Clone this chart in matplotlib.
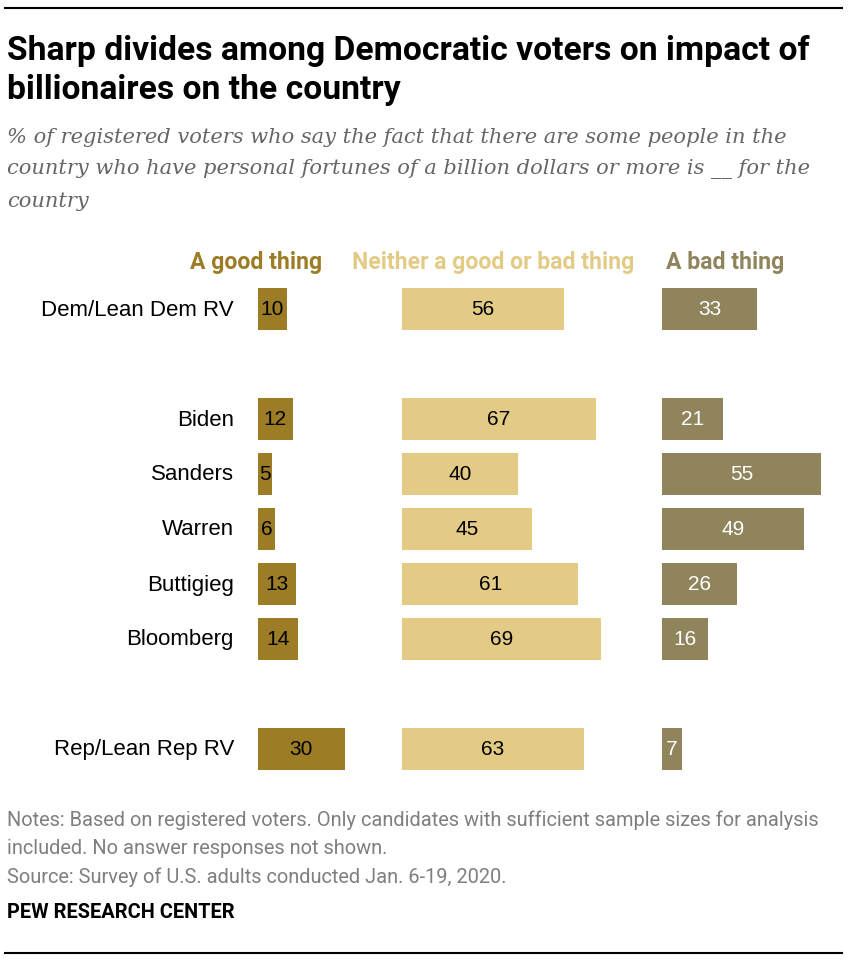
import matplotlib
matplotlib.use("Agg")
import matplotlib.pyplot as plt
from matplotlib.lines import Line2D

# ---- data ----
categories = ["Dem/Lean Dem RV", "Biden", "Sanders", "Warren", "Buttigieg", "Bloomberg", "Rep/Lean Rep RV"]
row_pos = [0, 2, 3, 4, 5, 6, 8]
good = [10, 12, 5, 6, 13, 14, 30]
neither = [56, 67, 40, 45, 61, 69, 63]
bad = [33, 21, 55, 49, 26, 16, 7]
series_names = ["A good thing", "Neither a good or bad thing", "A bad thing"]

title = "Sharp divides among Democratic voters on impact of\nbillionaires on the country"
subtitle = ("% of registered voters who say the fact that there are some people in the\n"
            "country who have personal fortunes of a billion dollars or more is __ for the\n"
            "country")
notes = ("Notes: Based on registered voters. Only candidates with sufficient sample sizes for analysis\n"
         "included. No answer responses not shown.\n"
         "Source: Survey of U.S. adults conducted Jan. 6-19, 2020.")
brand = "PEW RESEARCH CENTER"

# ---- style ----
W, H = 850, 962
colors = ["#9C7C25", "#E3CB86", "#8F845C"]
label_colors = ["black", "black", "white"]
header_colors = ["#9C7C25", "#E3CB86", "#8F845C"]
ROBOTO = ["Roboto", "DejaVu Sans"]
SANS = ["Liberation Sans", "DejaVu Sans"]

fig = plt.figure(figsize=(W / 100, H / 100), dpi=100)

def fx(px):
    return px / W

def fy(py):
    return 1 - py / H

px_per_unit = 2.89
col_starts = [258, 402, 662]
col_width_px = 215
ax_top, ax_bot = 280, 780
row_px = 55
y_top = -(310 - ax_top) / row_px
y_bot = y_top + (ax_bot - ax_top) / row_px

for i, vals in enumerate([good, neither, bad]):
    ax = fig.add_axes([fx(col_starts[i]), fy(ax_bot), col_width_px / W, (ax_bot - ax_top) / H])
    ax.set_xlim(0, col_width_px / px_per_unit)
    ax.set_ylim(y_bot, y_top)
    ax.axis("off")
    ax.patch.set_alpha(0)
    ax.barh(row_pos, vals, height=0.75, color=colors[i], left=0)
    for r, v in zip(row_pos, vals):
        ax.text(v / 2, r, str(v), ha="center", va="center", fontsize=15,
                color=label_colors[i], family=SANS)

# category labels
for cat, r in zip(categories, row_pos):
    ypx = 310 + r * row_px
    fig.text(fx(234), fy(ypx), cat, ha="right", va="center", fontsize=16,
             family=SANS, color="black")

# column headers
header_centers = [256, 493, 725]
for name, cx, c in zip(series_names, header_centers, header_colors):
    fig.text(fx(cx), fy(263), name, ha="center", va="center", fontsize=16.6,
             fontweight="bold", family=ROBOTO, color=c)

# title, subtitle
fig.text(fx(7), fy(35), title, ha="left", va="top", fontsize=24.2, fontweight="bold",
         family=ROBOTO, color="black", linespacing=1.29)
fig.text(fx(7), fy(128), subtitle, ha="left", va="top", fontsize=15.1, style="italic",
         family=["DejaVu Serif"], color="#666666", linespacing=1.83)

# notes & brand
fig.text(fx(7), fy(810), notes, ha="left", va="top", fontsize=14.4,
         family=ROBOTO, color="#7F7F7F", linespacing=1.62)
fig.text(fx(7), fy(912), brand, ha="left", va="center", fontsize=14.4, fontweight="bold",
         family=ROBOTO, color="black")

# rules
fig.add_artist(Line2D([fx(5), fx(842)], [fy(9), fy(9)], color="black", lw=1.5))
fig.add_artist(Line2D([fx(5), fx(842)], [fy(954), fy(954)], color="black", lw=1.5))

fig.savefig("out.png", dpi=100, facecolor="white")
